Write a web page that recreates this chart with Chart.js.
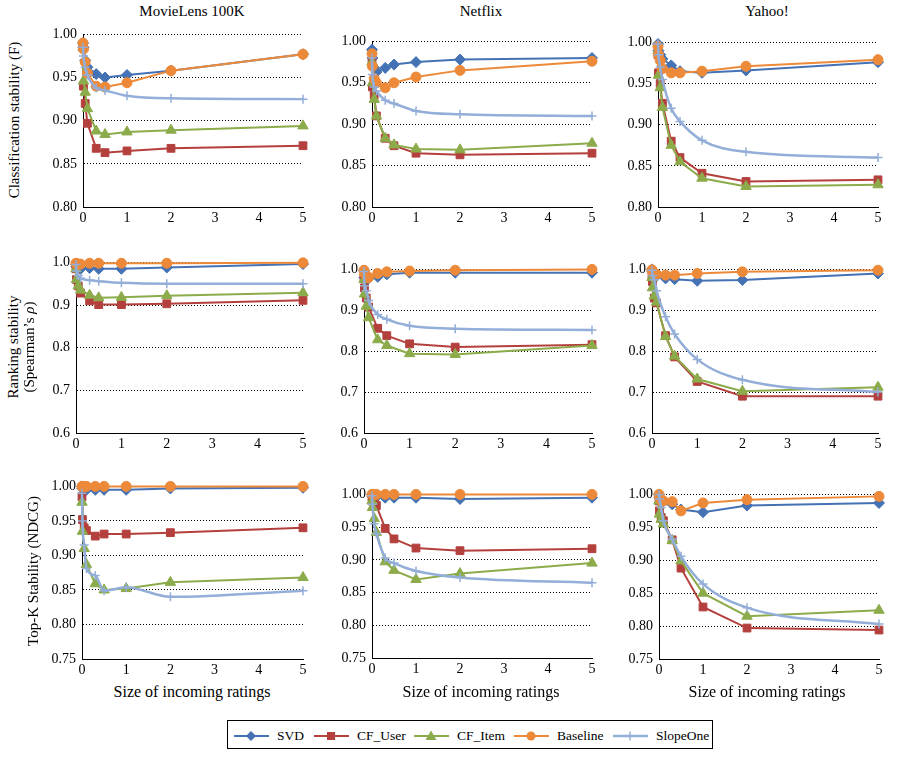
<!DOCTYPE html>
<html><head><meta charset="utf-8">
<script src="https://cdn.jsdelivr.net/npm/chart.js@4"></script>
<style>
body{margin:0;background:#fff;width:899px;height:759px;position:relative;overflow:hidden;font-family:"Liberation Serif","Times New Roman",serif;color:#000;}
canvas{position:absolute;}
.t{position:absolute;white-space:nowrap;color:#000;line-height:1;}
.ct{font-size:15px;transform:translateX(-50%);}
.xt{font-size:16px;transform:translate(-50%,-50%);}
.yt{font-size:15px;transform:translate(-50%,-50%) rotate(-90deg);}
#legend{position:absolute;left:227px;top:720px;width:486px;height:29px;border:1px solid #000;box-sizing:border-box;}
.li{position:absolute;top:0;height:29px;display:flex;align-items:center;font-size:13.5px;}
.li svg{margin-right:8px;}
</style></head><body>
<script>
// ---- data ----
const xValues = [0, 0.01, 0.05, 0.1, 0.3, 0.5, 1, 2, 5];
const seriesNames = ['SVD', 'CF_User', 'CF_Item', 'Baseline', 'SlopeOne'];
const columnTitles = ['MovieLens 100K', 'Netflix', 'Yahoo!'];
const xTickLabels = ['0', '1', '2', '3', '4', '5'];

// Row 1: Classification stability (F)
const mlF_SVD      = [0.990, 0.985, 0.970, 0.962, 0.954, 0.950, 0.953, 0.958, 0.977];
const mlF_CFUser   = [0.985, 0.940, 0.920, 0.897, 0.868, 0.863, 0.865, 0.868, 0.871];
const mlF_CFItem   = [0.985, 0.946, 0.933, 0.914, 0.888, 0.884, 0.887, 0.889, 0.894];
const mlF_Baseline = [0.990, 0.983, 0.968, 0.955, 0.940, 0.939, 0.944, 0.958, 0.977];
const mlF_SlopeOne = [0.985, 0.975, 0.962, 0.953, 0.938, 0.935, 0.929, 0.926, 0.925];

const nfF_SVD      = [0.990, 0.980, 0.968, 0.963, 0.968, 0.972, 0.975, 0.978, 0.980];
const nfF_CFUser   = [0.975, 0.945, 0.935, 0.910, 0.883, 0.874, 0.865, 0.863, 0.865];
const nfF_CFItem   = [0.975, 0.950, 0.930, 0.910, 0.883, 0.875, 0.870, 0.869, 0.877];
const nfF_Baseline = [0.985, 0.970, 0.955, 0.950, 0.944, 0.950, 0.957, 0.965, 0.976];
const nfF_SlopeOne = [0.980, 0.960, 0.945, 0.940, 0.929, 0.925, 0.916, 0.912, 0.910];

const yaF_SVD      = [0.998, 0.990, 0.985, 0.980, 0.972, 0.965, 0.963, 0.966, 0.976];
const yaF_CFUser   = [0.985, 0.963, 0.950, 0.926, 0.880, 0.860, 0.841, 0.831, 0.833];
const yaF_CFItem   = [0.990, 0.960, 0.945, 0.921, 0.875, 0.855, 0.835, 0.825, 0.827];
const yaF_Baseline = [0.995, 0.985, 0.978, 0.968, 0.963, 0.963, 0.965, 0.971, 0.979];
const yaF_SlopeOne = [0.998, 0.985, 0.970, 0.955, 0.920, 0.904, 0.881, 0.867, 0.860];

// Row 2: Ranking stability (Spearman's rho)
const mlR_SVD      = [0.995, 0.990, 0.985, 0.985, 0.987, 0.985, 0.985, 0.988, 0.996];
const mlR_CFUser   = [0.985, 0.960, 0.945, 0.928, 0.910, 0.901, 0.901, 0.903, 0.911];
const mlR_CFItem   = [0.985, 0.960, 0.945, 0.935, 0.923, 0.917, 0.918, 0.922, 0.929];
const mlR_Baseline = [0.998, 0.997, 0.996, 0.996, 0.998, 0.998, 0.998, 0.998, 0.999];
const mlR_SlopeOne = [0.995, 0.980, 0.969, 0.963, 0.958, 0.956, 0.952, 0.950, 0.950];

const nfR_SVD      = [0.997, 0.980, 0.975, 0.978, 0.982, 0.988, 0.992, 0.992, 0.992];
const nfR_CFUser   = [0.980, 0.955, 0.930, 0.908, 0.856, 0.838, 0.818, 0.810, 0.816];
const nfR_CFItem   = [0.975, 0.940, 0.910, 0.882, 0.828, 0.814, 0.794, 0.792, 0.814];
const nfR_Baseline = [0.998, 0.990, 0.985, 0.980, 0.990, 0.994, 0.996, 0.998, 1.000];
const nfR_SlopeOne = [0.995, 0.960, 0.948, 0.924, 0.890, 0.878, 0.862, 0.855, 0.852];

const yaR_SVD      = [1.000, 0.995, 0.990, 0.984, 0.978, 0.976, 0.972, 0.974, 0.990];
const yaR_CFUser   = [0.985, 0.970, 0.930, 0.918, 0.838, 0.786, 0.726, 0.690, 0.690];
const yaR_CFItem   = [0.980, 0.955, 0.935, 0.920, 0.836, 0.788, 0.732, 0.702, 0.712];
const yaR_Baseline = [0.999, 0.995, 0.990, 0.988, 0.986, 0.986, 0.990, 0.994, 0.998];
const yaR_SlopeOne = [0.998, 0.985, 0.975, 0.948, 0.884, 0.842, 0.780, 0.730, 0.700];

// Row 3: Top-K stability (NDCG)
const mlK_SVD      = [1.000, 0.997, 0.995, 0.995, 0.995, 0.995, 0.995, 0.997, 0.998];
const mlK_CFUser   = [0.985, 0.952, 0.940, 0.936, 0.928, 0.931, 0.931, 0.933, 0.940];
const mlK_CFItem   = [0.977, 0.935, 0.910, 0.887, 0.859, 0.850, 0.852, 0.861, 0.868];
const mlK_Baseline = [1.000, 1.000, 1.000, 1.000, 1.000, 1.000, 1.000, 1.000, 1.000];
const mlK_SlopeOne = [0.990, 0.950, 0.915, 0.881, 0.871, 0.849, 0.854, 0.840, 0.849];

const nfK_SVD      = [1.000, 0.997, 0.995, 0.996, 0.995, 0.995, 0.995, 0.993, 0.995];
const nfK_CFUser   = [0.995, 0.990, 0.986, 0.983, 0.948, 0.932, 0.918, 0.914, 0.917];
const nfK_CFItem   = [0.990, 0.980, 0.963, 0.942, 0.897, 0.884, 0.870, 0.879, 0.895];
const nfK_Baseline = [1.000, 1.000, 1.000, 1.000, 1.000, 1.000, 1.000, 1.000, 1.000];
const nfK_SlopeOne = [0.998, 0.985, 0.955, 0.940, 0.903, 0.895, 0.883, 0.873, 0.865];

const yaK_SVD      = [1.000, 0.995, 0.992, 0.990, 0.985, 0.977, 0.973, 0.983, 0.987];
const yaK_CFUser   = [0.990, 0.975, 0.965, 0.960, 0.931, 0.888, 0.829, 0.797, 0.794];
const yaK_CFItem   = [0.990, 0.970, 0.962, 0.955, 0.930, 0.899, 0.850, 0.815, 0.824];
const yaK_Baseline = [1.000, 0.995, 0.991, 0.990, 0.989, 0.975, 0.987, 0.992, 0.997];
const yaK_SlopeOne = [1.000, 0.993, 0.980, 0.960, 0.932, 0.906, 0.864, 0.828, 0.803];

// y-axis tick settings per row
const rowYMin = [0.80, 0.6, 0.75];
const rowYMax = [1.00, 1.0, 1.00];
const rowYStep = [0.05, 0.1, 0.05];
const rowYDecimals = [2, 1, 2];
</script>
<div id="legend"></div>
<script>
const FONT = '"Liberation Serif","Times New Roman",serif';
const seriesStyles = [
  {color:'#4472B4', pointStyle:'rectRot', pointRadius:5.5, borderWidth:2, order:5},
  {color:'#B4403D', pointStyle:'rect', pointRadius:5.5, borderWidth:2, order:4},
  {color:'#8CAB4A', pointStyle:'triangle', pointRadius:6, borderWidth:2, order:3},
  {color:'#EC8A3A', pointStyle:'circle', pointRadius:5, borderWidth:2, order:2},
  {color:'#93AED8', pointStyle:'cross', pointRadius:4.5, borderWidth:2.5, order:1, smooth:true}
];

// chart-area rectangles [left, top, right, bottom]
const panelRects = [
  [[83,32,303,207],[372,39,592,207],[658,40,878,207]],
  [[76,260,303,433],[364,267,592,433],[652,267,878,433]],
  [[82,484,303,659],[372,492,592,658],[659,492,879,659]]
];
const panelData = [
  [[mlF_SVD,mlF_CFUser,mlF_CFItem,mlF_Baseline,mlF_SlopeOne],
   [nfF_SVD,nfF_CFUser,nfF_CFItem,nfF_Baseline,nfF_SlopeOne],
   [yaF_SVD,yaF_CFUser,yaF_CFItem,yaF_Baseline,yaF_SlopeOne]],
  [[mlR_SVD,mlR_CFUser,mlR_CFItem,mlR_Baseline,mlR_SlopeOne],
   [nfR_SVD,nfR_CFUser,nfR_CFItem,nfR_Baseline,nfR_SlopeOne],
   [yaR_SVD,yaR_CFUser,yaR_CFItem,yaR_Baseline,yaR_SlopeOne]],
  [[mlK_SVD,mlK_CFUser,mlK_CFItem,mlK_Baseline,mlK_SlopeOne],
   [nfK_SVD,nfK_CFUser,nfK_CFItem,nfK_Baseline,nfK_SlopeOne],
   [yaK_SVD,yaK_CFUser,yaK_CFItem,yaK_Baseline,yaK_SlopeOne]]
];

function makePanel(rect, series, row) {
  const axisW = 50, padTop = 12, padRight = 16, xH = 24;
  const [L, T, R, B] = rect;
  const w = R - L + axisW + padRight, h = B - T + padTop + xH;
  const cv = document.createElement('canvas');
  cv.width = w; cv.height = h;
  cv.style.left = (L - axisW) + 'px'; cv.style.top = (T - padTop) + 'px';
  cv.style.width = w + 'px'; cv.style.height = h + 'px';
  document.body.appendChild(cv);
  const dec = rowYDecimals[row];
  new Chart(cv, {
    type: 'line',
    data: {
      datasets: series.map((vals, i) => {
        const s = seriesStyles[i];
        return {
          label: seriesNames[i],
          data: xValues.map((x, j) => ({x: x, y: vals[j]})),
          borderColor: s.color, backgroundColor: s.color,
          pointBackgroundColor: s.color, pointBorderColor: s.color,
          pointStyle: s.pointStyle, pointRadius: s.pointRadius,
          pointBorderWidth: s.pointStyle === 'cross' ? 1.5 : 1,
          borderWidth: s.borderWidth, order: s.order,
          cubicInterpolationMode: s.smooth ? 'monotone' : 'default',
          tension: 0, clip: false, fill: false
        };
      })
    },
    options: {
      responsive: false, animation: false, devicePixelRatio: 1,
      layout: {autoPadding: false, padding: {top: padTop, right: padRight, left: 0, bottom: 0}},
      plugins: {legend: {display: false}, tooltip: {enabled: false}},
      scales: {
        x: {
          type: 'linear', min: 0, max: 5,
          afterFit(s) { s.height = xH; },
          grid: {display: false, drawTicks: false},
          border: {display: true, color: '#000', width: 1},
          ticks: {stepSize: 1, color: '#000', font: {family: FONT, size: 14}, padding: 3,
                  maxRotation: 0, autoSkip: false,
                  callback: (v) => xTickLabels[Math.round(v)]}
        },
        y: {
          type: 'linear', min: rowYMin[row], max: rowYMax[row],
          afterFit(s) { s.width = axisW; },
          grid: {display: true, color: '#000', lineWidth: 1, drawTicks: false},
          border: {display: true, color: '#000', width: 1, dash: [1, 2]},
          ticks: {stepSize: rowYStep[row], color: '#000', font: {family: FONT, size: 14}, padding: 6,
                  callback: (v) => Number(v).toFixed(dec)}
        }
      }
    }
  });
}

for (let r = 0; r < 3; r++) for (let c = 0; c < 3; c++) makePanel(panelRects[r][c], panelData[r][c], r);

function addText(cls, html, x, y) {
  const d = document.createElement('div');
  d.className = 't ' + cls; d.innerHTML = html;
  d.style.left = x + 'px'; d.style.top = y + 'px';
  document.body.appendChild(d);
}
const colCenters = [192, 481, 767];
columnTitles.forEach((t, i) => addText('ct', t, colCenters[i], 4));
colCenters.forEach(x => addText('xt', 'Size of incoming ratings', x, 692));
addText('yt', 'Classification stability (F)', 14, 120);
addText('yt', 'Ranking stability', 13, 347);
addText('yt', '(Spearman\u2019s <i>\u03C1</i>)', 29, 347);
addText('yt', 'Top-K Stability (NDCG)', 33, 571);

// legend
const legendX = [6, 86, 186, 286, 385];
const leg = document.getElementById('legend');
function markerSVG(i) {
  const s = seriesStyles[i], c = s.color;
  let m = '';
  if (s.pointStyle === 'rectRot') m = `<polygon points="17,2 22,7 17,12 12,7" fill="${c}"/>`;
  else if (s.pointStyle === 'rect') m = `<rect x="13" y="3" width="8" height="8" fill="${c}"/>`;
  else if (s.pointStyle === 'triangle') m = `<polygon points="17,1.5 22.5,11 11.5,11" fill="${c}"/>`;
  else if (s.pointStyle === 'circle') m = `<circle cx="17" cy="7" r="4.5" fill="${c}"/>`;
  else m = `<line x1="17" y1="2.5" x2="17" y2="11.5" stroke="${c}" stroke-width="1.5"/>`;
  return `<svg width="35" height="14"><line x1="0" y1="7" x2="35" y2="7" stroke="${c}" stroke-width="${s.borderWidth}"/>${m}</svg>`;
}
seriesNames.forEach((n, i) => {
  const d = document.createElement('div');
  d.className = 'li'; d.style.left = legendX[i] + 'px';
  d.innerHTML = markerSVG(i) + '<span>' + n + '</span>';
  leg.appendChild(d);
});
</script>
</body></html>
